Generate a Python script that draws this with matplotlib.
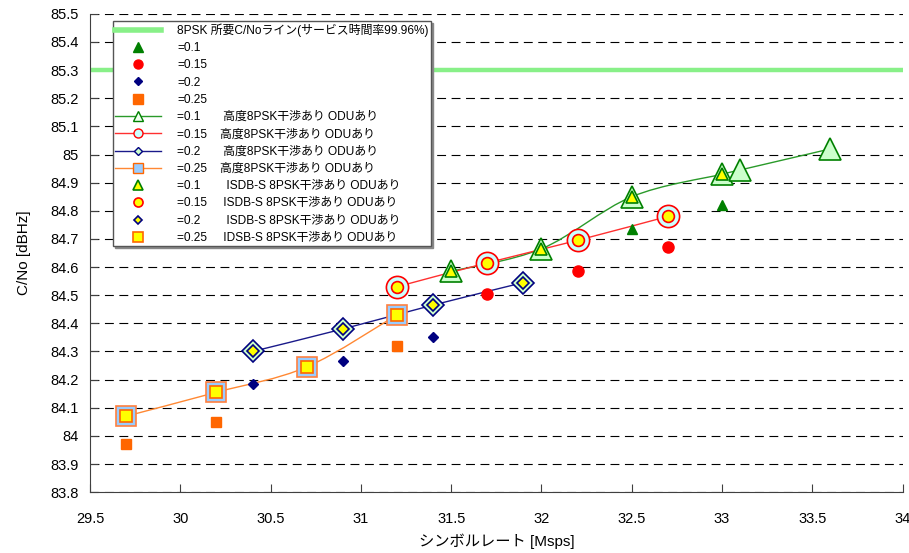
import matplotlib
matplotlib.use('Agg')
import matplotlib.pyplot as plt
from matplotlib.lines import Line2D
from matplotlib.path import Path
from matplotlib.patches import PathPatch
import numpy as np

plt.rcParams['font.family'] = ['Liberation Sans', 'Noto Sans CJK JP']

# required C/No (service availability 99.96%)
req_cno = 85.3

# calculated values (filled markers)
calc_x_01 = [32.5, 33.0]
calc_y_01 = [84.735, 84.82]
calc_x_015 = [31.7, 32.2, 32.7]
calc_y_015 = [84.505, 84.585, 84.67]
calc_x_02 = [30.4, 30.9, 31.4]
calc_y_02 = [84.185, 84.265, 84.35]
calc_x_025 = [29.7, 30.2, 31.2]
calc_y_025 = [83.97, 84.05, 84.32]

# 高度8PSK measured (line + large markers)
adv_x_01 = [31.5, 32.0, 32.5, 33.0, 33.1, 33.6]
adv_y_01 = [84.585, 84.665, 84.85, 84.93, 84.945, 85.02]
adv_x_015 = [31.2, 31.7, 32.2, 32.7]
adv_y_015 = [84.53, 84.615, 84.695, 84.78]
adv_x_02 = [30.4, 30.9, 31.4, 31.9]
adv_y_02 = [84.3, 84.38, 84.465, 84.545]
adv_x_025 = [29.7, 30.2, 30.7, 31.2]
adv_y_025 = [84.07, 84.155, 84.245, 84.43]

# ISDB-S 8PSK measured (small yellow markers)
isdb_x_01 = [31.5, 32.0, 32.5, 33.0]
isdb_y_01 = [84.585, 84.665, 84.85, 84.93]
isdb_x_015 = [31.2, 31.7, 32.2, 32.7]
isdb_y_015 = [84.53, 84.615, 84.695, 84.78]
isdb_x_02 = [30.4, 30.9, 31.4, 31.9]
isdb_y_02 = [84.3, 84.38, 84.465, 84.545]
isdb_x_025 = [29.7, 30.2, 30.7, 31.2]
isdb_y_025 = [84.07, 84.155, 84.245, 84.43]

req_label = '8PSK 所要C/Noライン(サービス時間率99.96%)'
calc_labels = ['=0.1', '=0.15', '=0.2', '=0.25']
adv_labels = ['=0.1       高度8PSK干渉あり ODUあり',
              '=0.15    高度8PSK干渉あり ODUあり',
              '=0.2       高度8PSK干渉あり ODUあり',
              '=0.25    高度8PSK干渉あり ODUあり']
isdb_labels = ['=0.1        ISDB-S 8PSK干渉あり ODUあり',
               '=0.15     ISDB-S 8PSK干渉あり ODUあり',
               '=0.2        ISDB-S 8PSK干渉あり ODUあり',
               '=0.25     IDSB-S 8PSK干渉あり ODUあり']


# smooth line like the spreadsheet "smoothed line" option
def smooth_path(xs, ys):
    pts = np.column_stack([xs, ys])
    n = len(pts)
    verts = [pts[0]]
    codes = [Path.MOVETO]
    for i in range(n - 1):
        p0 = pts[max(i - 1, 0)]
        p1 = pts[i]
        p2 = pts[i + 1]
        p3 = pts[min(i + 2, n - 1)]
        verts += [p1 + (p2 - p0) / 6, p2 - (p3 - p1) / 6, p2]
        codes += [Path.CURVE4] * 3
    return Path(verts, codes)


fig = plt.figure(figsize=(9.09, 5.53), dpi=100)
ax = fig.add_axes([0.099, 0.110, 0.894, 0.865])

ax.set_xlim(29.5, 34)
ax.set_ylim(83.8, 85.5)
ax.set_xticks(np.arange(29.5, 34.01, 0.5))
ax.set_yticks(np.arange(83.8, 85.501, 0.1))
ax.set_xticklabels(['29.5', '30', '30.5', '31', '31.5', '32', '32.5', '33', '33.5', '34'])
ax.set_yticklabels(['%g' % round(v, 1) for v in np.arange(83.8, 85.501, 0.1)])
ax.tick_params(direction='in', labelsize=10.5, length=6, color='#404040')
ax.tick_params(axis='y', pad=8)
ax.tick_params(axis='x', pad=14)
ax.yaxis.grid(True, color='black', linestyle=(0, (8, 5)), linewidth=0.8)
ax.set_axisbelow(True)
for s in ['top', 'right']:
    ax.spines[s].set_visible(False)
for s in ['left', 'bottom']:
    ax.spines[s].set_color('#404040')

ax.set_xlabel('シンボルレート [Msps]', fontsize=11, labelpad=6)
ax.set_ylabel('C/No [dBHz]', fontsize=11, labelpad=14)

req_color = '#88f088'
ax.axhline(req_cno, color=req_color, linewidth=3.2, zorder=2)

colors = ['#008000', '#ff0000', '#000080', '#ff6600']
line_colors = ['#2a9a2a', '#ff3030', '#1a1a8a', '#ff8833']
adv_fill = ['#ccffcc', '#ccffff', '#ccffcc', '#99ccff']
markers = ['^', 'o', 'D', 's']
calc_ms = [7.5, 8, 5.5, 7.5]
adv_ms = [16, 16, 11, 15]
isdb_ms = [8.5, 8.5, 6, 8]
leg_ms = [6.5, 6.5, 4.5, 6.5]

calc_x = [calc_x_01, calc_x_015, calc_x_02, calc_x_025]
calc_y = [calc_y_01, calc_y_015, calc_y_02, calc_y_025]
adv_x = [adv_x_01, adv_x_015, adv_x_02, adv_x_025]
adv_y = [adv_y_01, adv_y_015, adv_y_02, adv_y_025]
isdb_x = [isdb_x_01, isdb_x_015, isdb_x_02, isdb_x_025]
isdb_y = [isdb_y_01, isdb_y_015, isdb_y_02, isdb_y_025]

handles = [Line2D([], [], color=req_color, linewidth=4)]
labels = [req_label]

for i in range(4):
    ax.add_patch(PathPatch(smooth_path(adv_x[i], adv_y[i]), fill=False,
                           edgecolor=line_colors[i], linewidth=1.0, zorder=3))
for i in range(4):
    ax.plot(adv_x[i], adv_y[i], linestyle='none', marker=markers[i],
            markersize=adv_ms[i], markerfacecolor=adv_fill[i],
            markeredgecolor=colors[i] if i != 3 else '#ff8040',
            markeredgewidth=1.2, zorder=4)
    ax.plot(isdb_x[i], isdb_y[i], linestyle='none', marker=markers[i],
            markersize=isdb_ms[i], markerfacecolor='#ffff00',
            markeredgecolor=colors[i], markeredgewidth=1.2, zorder=5)
    ax.plot(calc_x[i], calc_y[i], linestyle='none', marker=markers[i],
            markersize=calc_ms[i], color=colors[i], zorder=5)

for i in range(4):
    handles.append(Line2D([], [], linestyle='none', marker=markers[i],
                          markersize=leg_ms[i], color=colors[i]))
    labels.append(calc_labels[i])
for i in range(4):
    handles.append(Line2D([], [], color=line_colors[i], linewidth=1.0,
                          marker=markers[i], markersize=leg_ms[i],
                          markerfacecolor=adv_fill[i] if i != 0 else '#f0fff0',
                          markeredgecolor=colors[i], markeredgewidth=1.0))
    labels.append(adv_labels[i])
for i in range(4):
    handles.append(Line2D([], [], linestyle='none', marker=markers[i],
                          markersize=leg_ms[i], markerfacecolor='#ffff00',
                          markeredgecolor=colors[i], markeredgewidth=1.2))
    labels.append(isdb_labels[i])

leg = ax.legend(handles, labels, loc='upper left', bbox_to_anchor=(0.028, 0.985),
                borderaxespad=0, fontsize=8.6, labelspacing=0.44, handlelength=3.8,
                handletextpad=1.4, borderpad=0.2, fancybox=False, framealpha=1,
                edgecolor='#555555', shadow={'color': '#888888', 'alpha': 1,
                                             'ox': 1.5, 'oy': -1.5})
leg.get_frame().set_linewidth(1.0)
leg.set_zorder(10)

fig.savefig('out.png', dpi=100)
